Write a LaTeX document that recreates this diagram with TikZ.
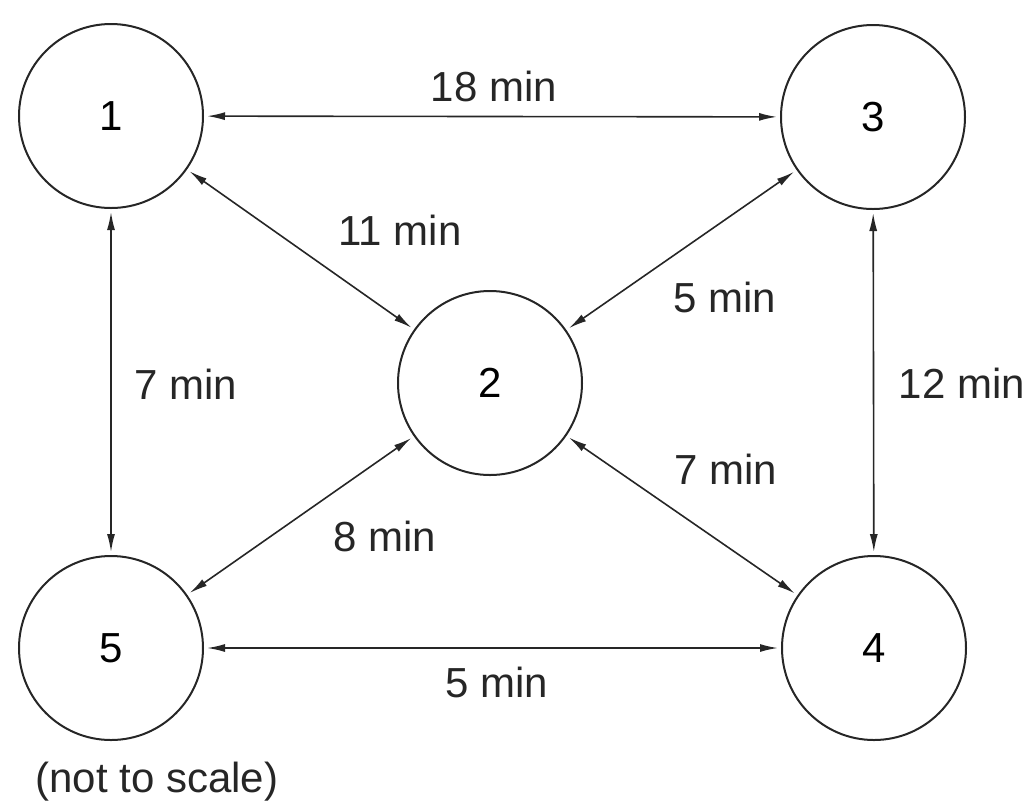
\documentclass[tikz,border=0pt]{standalone}
\usepackage{fontspec}
\setmainfont{Liberation Sans}
\usetikzlibrary{arrows.meta}
\begin{document}
\begin{tikzpicture}[x=0.5pt,y=-0.5pt,
  station/.style={circle,draw=black!85,line width=1pt,minimum size=92pt,inner sep=0pt,font=\fontsize{21}{24}\selectfont},
  lbl/.style={font=\fontsize{21}{24}\selectfont,text=black!85,inner sep=0pt},
  link/.style={draw=black!85,line width=0.8pt,{Latex[length=9pt,width=4pt]}-{Latex[length=9pt,width=4pt]},shorten <=1.5pt,shorten >=1.5pt}]
\useasboundingbox (0,0) rectangle (1034,800);
\node[station] (n1) at (111,116) {1};
\node[station] (n3) at (873,117) {3};
\node[station] (n2) at (490,383) {2};
\node[station] (n5) at (111,648) {5};
\node[station] (n4) at (874,648) {4};
\draw[link] (n1) -- (n3);
\draw[link] (n1) -- (n2);
\draw[link] (n3) -- (n2);
\draw[link] (n1) -- (n5);
\draw[link] (n3) -- (n4);
\draw[link] (n2) -- (n5);
\draw[link] (n2) -- (n4);
\draw[link] (n5) -- (n4);
\node[lbl] (l13) at (494,86) {18 min};
\node[lbl] (l12) at (400,230) {11 min};
\node[lbl] (l23) at (725,297) {5 min};
\node[lbl] (l34) at (962,383) {12 min};
\node[lbl] (l15) at (186,384) {7 min};
\node[lbl] (l24) at (726,469) {7 min};
\node[lbl] (l25) at (385,536) {8 min};
\node[lbl] (l54) at (497,682) {5 min};
\node[lbl] (note) at (157,782) {(not to scale)};
\end{tikzpicture}
\end{document}
